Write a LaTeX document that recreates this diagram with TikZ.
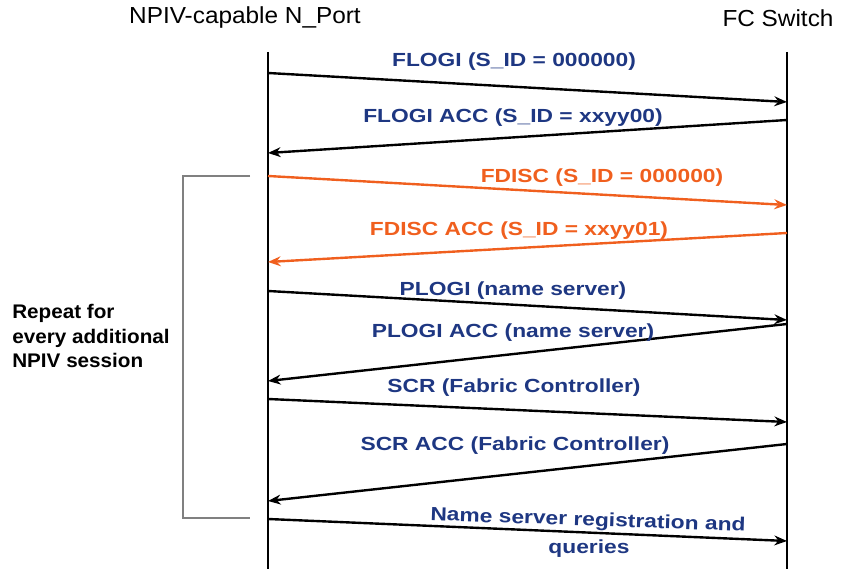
\documentclass[tikz,border=0pt]{standalone}
\usepackage{fontspec}
\setmainfont{Liberation Sans}
\newfontfamily\widefont[FakeStretch=1.2]{Liberation Sans}
\newfontfamily\headfont[FakeStretch=1.05]{Liberation Sans}
\usepackage{xcolor}
\usetikzlibrary{arrows.meta}
\definecolor{msgblue}{RGB}{30,55,130}
\definecolor{msgorange}{RGB}{240,95,30}

\begin{document}
\begin{tikzpicture}[x=0.025cm, y=-0.025cm,
  head/.style={font=\fontsize{16.5}{18}\headfont, inner sep=0pt},
  lbl/.style={font=\fontsize{13.5}{16.5}\widefont\bfseries, text=msgblue, inner sep=0pt, align=center},
  olbl/.style={lbl, text=msgorange},
  life/.style={draw, line width=1.8pt},
  msg/.style={draw, line width=1.7pt, -{Stealth[length=9pt, width=7pt]}},
  omsg/.style={msg, draw=msgorange},
  rep/.style={draw, gray, line width=0.8pt},
]
\useasboundingbox (0,0) rectangle (850,569);
% --- Headers ---
\node[head] (port) at (245,18) {NPIV-capable N\_Port};
\node[head] (sw) at (778,18) {FC Switch};
% --- Lifelines ---
\coordinate (lt) at (268,52);
\coordinate (lb) at (268,569);
\coordinate (rt) at (787,52);
\coordinate (rb) at (787,569);
\draw[life] (lt) -- (lb);
\draw[life] (rt) -- (rb);
% --- Message end points ---
\coordinate (a1) at (268,73);  \coordinate (b1) at (787,102);
\coordinate (b2) at (787,120); \coordinate (a2) at (268,153);
\coordinate (a3) at (268,176); \coordinate (b3) at (787,205);
\coordinate (b4) at (787,233); \coordinate (a4) at (268,262);
\coordinate (a5) at (268,291); \coordinate (b5) at (787,320);
\coordinate (b6) at (787,324); \coordinate (a6) at (268,381);
\coordinate (a7) at (268,399); \coordinate (b7) at (787,422);
\coordinate (b8) at (787,444); \coordinate (a8) at (268,501);
\coordinate (a9) at (268,519); \coordinate (b9) at (787,541);
% --- FLOGI ---
\draw[msg] (a1) -- (b1);
\node[lbl] (m1) at (514,62) {FLOGI (S\_ID = 000000)};
\draw[msg] (b2) -- (a2);
\node[lbl] (m2) at (513,118) {FLOGI ACC (S\_ID = xxyy00)};
% --- FDISC ---
\draw[omsg] (a3) -- (b3);
\node[olbl] (m3) at (602,178) {FDISC (S\_ID = 000000)};
\draw[omsg] (b4) -- (a4);
\node[olbl] (m4) at (519,231) {FDISC ACC (S\_ID = xxyy01)};
% --- PLOGI ---
\draw[msg] (a5) -- (b5);
\node[lbl] (m5) at (513,291) {PLOGI (name server)};
\draw[msg] (b6) -- (a6);
\node[lbl] (m6) at (513,333) {PLOGI ACC (name server)};
% --- SCR ---
\draw[msg] (a7) -- (b7);
\node[lbl] (m7) at (514,388) {SCR (Fabric Controller)};
\draw[msg] (b8) -- (a8);
\node[lbl] (m8) at (515,446) {SCR ACC (Fabric Controller)};
% --- Name server ---
\draw[msg] (a9) -- (b9);
\node[lbl, rotate=-2] (m9) at (588,521) {Name server registration and};
\node[lbl] (m9b) at (589,549) {queries};
% --- Repeat bracket ---
\coordinate (r1) at (250,176);
\coordinate (r2) at (183,176);
\coordinate (r3) at (183,518);
\coordinate (r4) at (250,518);
\draw[rep] (r1) -- (r2) -- (r3) -- (r4);
\node[font=\fontsize{14}{17.7}\headfont\bfseries, align=left, anchor=west, inner sep=0pt] (repeat) at (12,336)
  {Repeat for\\every additional\\NPIV session};
\end{tikzpicture}
\end{document}
